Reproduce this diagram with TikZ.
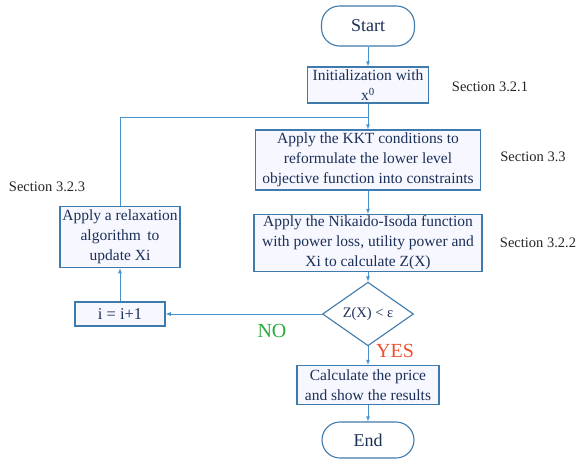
\documentclass[tikz,border=0pt]{standalone}
\usepackage{fontspec}
\setmainfont{Liberation Serif}
\usepackage{tikz}
\usetikzlibrary{shapes.geometric}

\definecolor{linecol}{RGB}{74,146,206}
\definecolor{boxcol}{RGB}{62,122,172}
\definecolor{txtcol}{RGB}{28,48,88}
\definecolor{nocol}{RGB}{40,170,60}
\definecolor{yescol}{RGB}{236,80,50}

\begin{document}
\begin{tikzpicture}[x=1pt,y=-1pt]
  \tikzstyle{box}=[draw=boxcol, line width=1.1pt, fill=blue!3, text=txtcol, align=center, inner sep=1pt,
    font=\fontsize{15.5}{20}\selectfont]
  \tikzstyle{term}=[box, rounded corners=18pt, fill=white, font=\fontsize{18}{20}\selectfont]
  \tikzstyle{sec}=[font=\fontsize{14.5}{17}\selectfont, text=black!85]
  \tikzstyle{directed}=[-latex, thick, color=linecol]
  \useasboundingbox (0,0) rectangle (579,464);

  \node[term, minimum width=93, minimum height=40] (start) at (368,26) {Start};
  \node[box, minimum width=121, minimum height=36] (init) at (368,85) {Initialization with\\x\textsuperscript{0}};
  \node[box, minimum width=225, minimum height=60] (kkt) at (368,160)
    {Apply the KKT conditions to\\reformulate the lower level\\objective function into constraints};
  \node[box, minimum width=228, minimum height=57] (nik) at (368,243)
    {Apply the Nikaido-Isoda function\\with power loss, utility power and\\Xi to calculate Z(X)};
  \node[box, diamond, fill=white, inner sep=0pt, minimum width=91, minimum height=53,
    font=\fontsize{14.5}{17}\selectfont] (dec) at (368,314) {Z(X) < ε};
  \node[box, minimum width=90, minimum height=24, font=\fontsize{16.5}{19}\selectfont] (inc) at (120,314) {i = i+1};
  \node[box, minimum width=120, minimum height=61] (relax) at (120,237)
    {Apply a relaxation\\algorithm\, to\\update Xi};
  \node[box, minimum width=142, minimum height=39] (calc) at (368,385)
    {Calculate the price\\and show the results};
  \node[term, minimum width=92, minimum height=36] (stop) at (368,440) {End};

  \node[sec] (s321) at (490,87) {Section 3.2.1};
  \node[sec] (s33) at (533,157) {Section 3.3};
  \node[sec] (s322) at (538,243) {Section 3.2.2};
  \node[sec] (s323) at (47,187) {Section 3.2.3};

  \coordinate (join) at (368,117);
  \foreach \a/\b in {start/init, init/kkt, kkt/nik, nik/dec, dec/calc, calc/stop, dec/inc, inc/relax} {
    \draw[directed] (\a) -- (\b);
  }
  \draw[thick, linecol] (relax.north) |- (join);

  \node[text=nocol, font=\fontsize{20}{22}\selectfont] (no) at (272,331) {NO};
  \node[text=yescol, font=\fontsize{20}{22}\selectfont] (yes) at (395,351) {YES};
\end{tikzpicture}
\end{document}
